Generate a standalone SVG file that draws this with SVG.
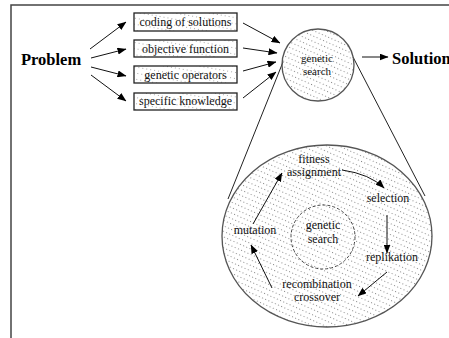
<svg xmlns="http://www.w3.org/2000/svg" width="449" height="338" viewBox="0 0 449 338">
<defs>
<style>
text{font-family:"Liberation Serif","Times New Roman","DejaVu Serif",serif}
.lbl{font-size:12px;fill:#111;text-anchor:middle}
.sm{font-size:11px;fill:#111;text-anchor:middle}
.big{font-size:16.5px;font-weight:bold;fill:#000}
.box{fill:url(#dotsLight);stroke:#222;stroke-width:1.3}
.circ{fill:url(#dots);stroke:#555;stroke-width:1.3}
.con{stroke:#111;stroke-width:1;fill:none;marker-end:url(#ah)}
.frame{stroke:#444;stroke-width:1.5;fill:none}
</style>
<pattern id="dots" width="3.5" height="5" patternUnits="userSpaceOnUse" patternTransform="rotate(24)">
<rect x="0" y="0" width="1" height="1" fill="#888"/>
</pattern>
<pattern id="dotsLight" width="4" height="6" patternUnits="userSpaceOnUse" patternTransform="rotate(10)">
<rect x="0" y="0" width="1" height="1" fill="#aaa"/>
</pattern>
<marker id="ah" markerWidth="9" markerHeight="7" refX="8.5" refY="3.5" orient="auto" markerUnits="userSpaceOnUse">
<path d="M0,0 L9,3.5 L0,7 z" fill="#000"/>
</marker>
</defs>
<rect x="0" y="0" width="449" height="338" fill="#fff"/>
<g id="frame">
<path class="frame" d="M11,338 V5 H449"/>
</g>
<g id="connectors">
<line class="con" x1="90" y1="49" x2="126" y2="22"/>
<line class="con" x1="91" y1="58" x2="126" y2="49"/>
<line class="con" x1="91" y1="67" x2="126" y2="76"/>
<line class="con" x1="91" y1="75" x2="126" y2="101"/>
<line class="con" x1="243" y1="23" x2="280" y2="43"/>
<line class="con" x1="243" y1="48" x2="277" y2="53"/>
<line class="con" x1="243" y1="71" x2="276" y2="62"/>
<line class="con" x1="243" y1="98" x2="276" y2="72"/>
<line class="con" x1="362" y1="57" x2="388" y2="57"/>
<line stroke="#222" stroke-width="1" x1="283" y1="62" x2="228" y2="199"/>
<line stroke="#222" stroke-width="1" x1="353" y1="57" x2="425" y2="196"/>
</g>
<g id="node-problem"><text class="big" x="21" y="65" font-family="Liberation Serif, serif">Problem</text></g>
<g id="node-coding"><rect class="box" x="134" y="13" width="103" height="18"/><text class="lbl" x="185.5" y="26" font-family="Liberation Serif, serif">coding of solutions</text></g>
<g id="node-objective"><rect class="box" x="134" y="40" width="103" height="17"/><text class="lbl" x="185.5" y="53" font-family="Liberation Serif, serif">objective function</text></g>
<g id="node-operators"><rect class="box" x="134" y="66" width="103" height="17"/><text class="lbl" x="185.5" y="79" font-family="Liberation Serif, serif">genetic operators</text></g>
<g id="node-knowledge"><rect class="box" x="134" y="93" width="103" height="17"/><text class="lbl" x="185.5" y="105" font-family="Liberation Serif, serif">specific knowledge</text></g>
<g id="node-search"><circle class="circ" cx="318" cy="65" r="36"/><text class="sm" x="317" y="62" font-family="Liberation Serif, serif">genetic</text><text class="sm" x="317" y="75" font-family="Liberation Serif, serif">search</text></g>
<g id="node-solution"><text class="big" x="392" y="64" font-family="Liberation Serif, serif">Solution</text></g>
<g id="node-detail"><ellipse class="circ" cx="327" cy="236" rx="105" ry="91"/></g>
<g id="node-inner"><circle cx="323" cy="237" r="32" fill="none" stroke="#444" stroke-width="1" stroke-dasharray="3,2"/><text class="lbl" x="323" y="229" font-family="Liberation Serif, serif">genetic</text><text class="lbl" x="323" y="243" font-family="Liberation Serif, serif">search</text></g>
<g id="node-fitness"><text class="lbl" x="314" y="163" font-family="Liberation Serif, serif">fitness</text><text class="lbl" x="314" y="176" font-family="Liberation Serif, serif">assignment</text></g>
<g id="node-selection"><text class="lbl" x="388" y="202" font-family="Liberation Serif, serif">selection</text></g>
<g id="node-replikation"><text class="lbl" x="392" y="261" font-family="Liberation Serif, serif">replikation</text></g>
<g id="node-recombination"><text class="lbl" x="317" y="288" font-family="Liberation Serif, serif">recombination</text><text class="lbl" x="317" y="301" font-family="Liberation Serif, serif">crossover</text></g>
<g id="node-mutation"><text class="lbl" x="255" y="234" font-family="Liberation Serif, serif">mutation</text></g>
<g id="cycle-connectors">
<line class="con" x1="253" y1="224" x2="282" y2="173"/>
<path class="con" d="M342,170 Q370,174 384,188"/>
<line class="con" x1="387" y1="215" x2="387" y2="253"/>
<line class="con" x1="387" y1="272" x2="358" y2="296"/>
<line class="con" x1="272" y1="288" x2="251" y2="245"/>
</g>
</svg>
